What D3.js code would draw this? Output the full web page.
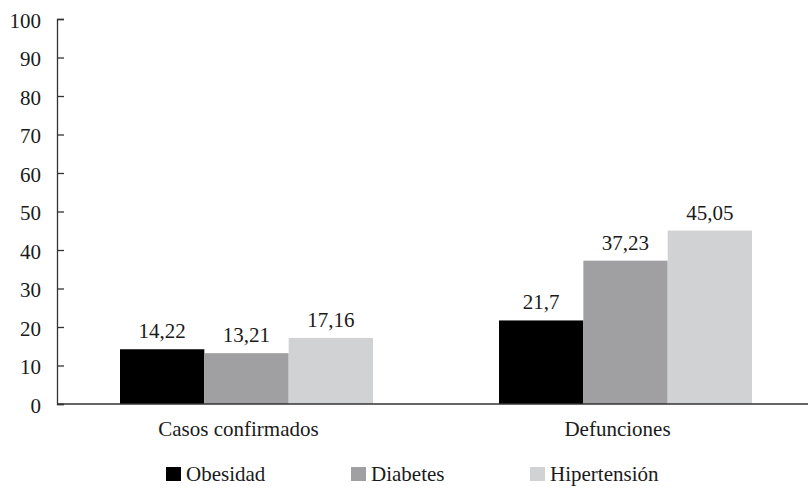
<!DOCTYPE html>
<html>
<head>
<meta charset="utf-8">
<script src="https://cdn.jsdelivr.net/npm/d3@7"></script>
<style>
  body { margin: 0; background: #fff; }
</style>
</head>
<body>
<svg id="chart" width="809" height="488"></svg>
<script>
const categories = ['Casos confirmados', 'Defunciones'];
const seriesNames = ['Obesidad', 'Diabetes', 'Hipertensión'];
const obesidad = [14.22, 21.7];
const diabetes = [13.21, 37.23];
const hipertension = [17.16, 45.05];
const yTicks = [0, 10, 20, 30, 40, 50, 60, 70, 80, 90, 100];
const colors = ['#000000', '#a0a0a2', '#d1d2d4'];

const FONT = '"Liberation Serif", "Times New Roman", Times, serif';
const FS = 21;

const seriesValues = [obesidad, diabetes, hipertension];
const rows = categories.map((c, i) => ({
  cat: c,
  vals: seriesNames.map((s, j) => ({ key: s, value: seriesValues[j][i] }))
}));

const margin = { top: 19, right: 1, bottom: 84, left: 57 };
const svg = d3.select('#chart');
const width = 809 - margin.left - margin.right,
  height = 488 - margin.top - margin.bottom;

const g = svg.append('g')
  .attr('transform', `translate(${margin.left},${margin.top})`);

const x0 = d3.scaleBand()
  .domain(categories)
  .range([63, 695])
  .paddingInner(0.3325)
  .paddingOuter(0);

const x1 = d3.scaleBand()
  .domain(seriesNames)
  .range([0, x0.bandwidth()]);

const y = d3.scaleLinear()
  .domain([0, 100])
  .range([height, 0]);

function serif(sel) {
  return sel.attr('font-family', FONT).attr('font-size', FS).attr('fill', '#1a1a1a');
}

// y axis, ticks pointing into the plot
const yAxis = g.append('g')
  .call(d3.axisRight(y).tickValues(yTicks).tickSize(7).tickFormat(d3.format('d')));
yAxis.select('.domain').attr('stroke', '#333').attr('stroke-width', 1.3);
yAxis.selectAll('.tick line').attr('stroke', '#333').attr('stroke-width', 1.3);
yAxis.selectAll('.tick text')
  .attr('x', -16)
  .attr('dy', '0.4em')
  .attr('text-anchor', 'end')
  .call(serif);

// bars
const groups = g.selectAll('.grp')
  .data(rows)
  .enter()
  .append('g')
  .attr('transform', d => `translate(${x0(d.cat)},0)`);

groups.selectAll('rect')
  .data(d => d.vals)
  .enter()
  .append('rect')
  .attr('x', d => x1(d.key))
  .attr('y', d => y(d.value))
  .attr('width', x1.bandwidth())
  .attr('height', d => height - y(d.value))
  .attr('fill', (d, i) => colors[i]);

groups.selectAll('.lbl')
  .data(d => d.vals)
  .enter()
  .append('text')
  .attr('x', d => x1(d.key) + x1.bandwidth() / 2)
  .attr('y', d => y(d.value) - 11)
  .attr('text-anchor', 'middle')
  .call(serif)
  .text(d => String(d.value).replace('.', ','));

// x axis line
g.append('line')
  .attr('x1', 0).attr('x2', width)
  .attr('y1', height).attr('y2', height)
  .attr('stroke', '#333').attr('stroke-width', 1.3);

g.selectAll('.cat')
  .data(categories)
  .enter()
  .append('text')
  .attr('x', d => x0(d) + x0.bandwidth() / 2 - 8)
  .attr('y', height + 32)
  .attr('text-anchor', 'middle')
  .call(serif)
  .text(d => d);

// legend
const legendX = [166, 351, 530];
const legend = svg.append('g').attr('transform', 'translate(0,467)');
seriesNames.forEach((s, i) => {
  legend.append('rect')
    .attr('x', legendX[i]).attr('y', 0)
    .attr('width', 15).attr('height', 14)
    .attr('fill', colors[i]);
  legend.append('text')
    .attr('x', legendX[i] + 20).attr('y', 14)
    .call(serif)
    .text(s);
});
</script>
</body>
</html>
